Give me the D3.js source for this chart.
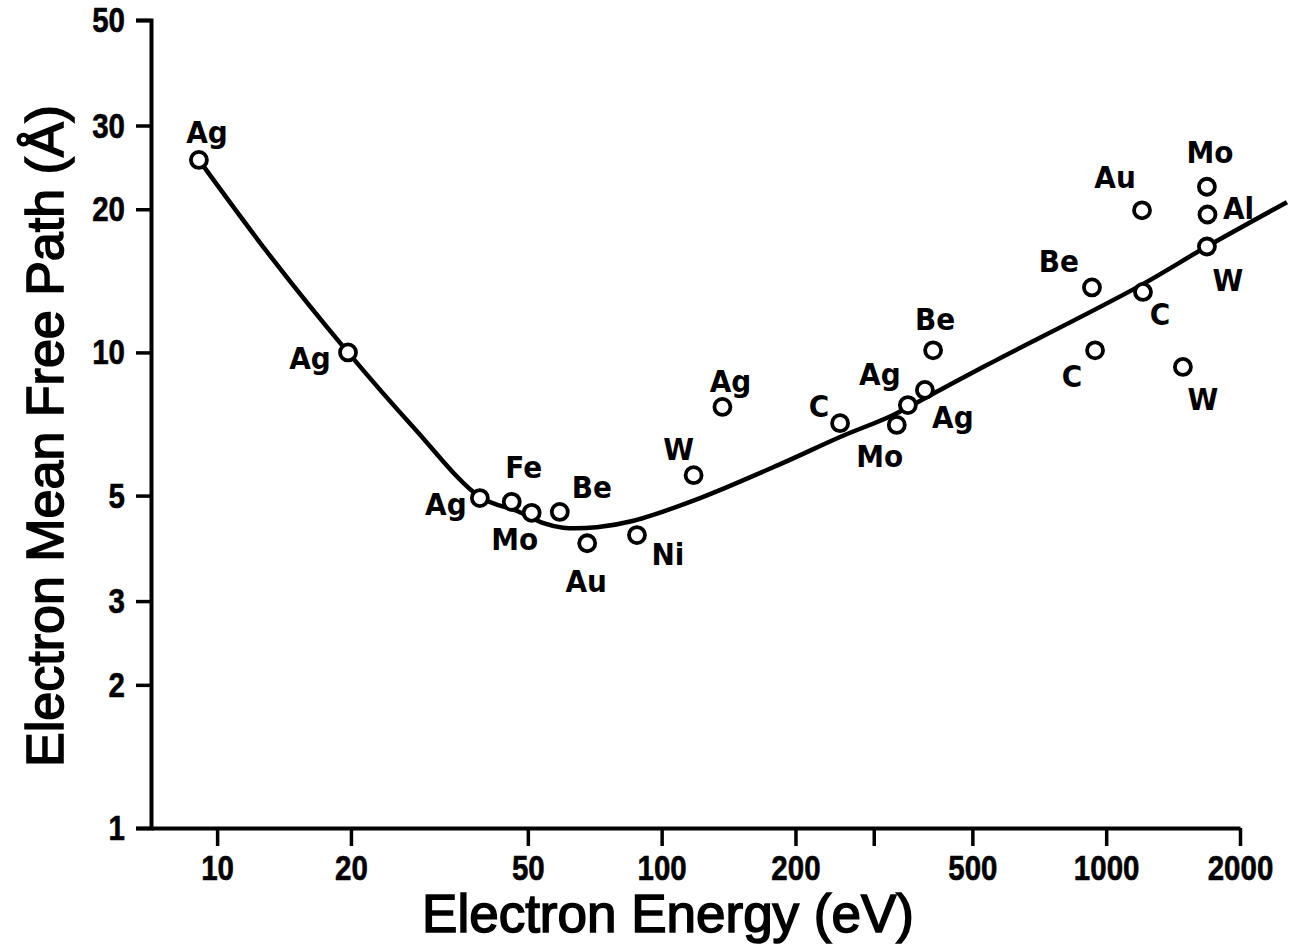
<!DOCTYPE html>
<html>
<head>
<meta charset="utf-8">
<script src="https://cdnjs.cloudflare.com/ajax/libs/d3/7.8.5/d3.min.js"></script>
<style>
  html, body { margin: 0; padding: 0; background: #fff; }
  svg { display: block; }
  .tick text { font-family: "Liberation Sans", Arial, sans-serif; font-weight: bold; }
  .ptlabel { font-family: "DejaVu Sans Condensed", "DejaVu Sans", sans-serif; font-weight: bold; }
  .title { font-family: "Liberation Sans", Arial, sans-serif; }
</style>
</head>
<body>
<div id="chart"></div>
<script>
// measured points (element, energy in eV, mean free path in Angstrom)
var element = ["Ag","Ag","Ag","Fe","Mo","Be","Au","Ni","W","Ag","C","Mo","Ag","Ag","Be","Be","C","C","Au","W","Mo","Al","W"];
var energy  = [9.1, 19.7, 39, 46, 51, 59, 68, 88, 118, 137, 252, 338, 358, 391, 408, 929, 944, 1210, 1204, 1488, 1685, 1690, 1685];
var mfp     = [25.4, 10.0, 4.94, 4.85, 4.6, 4.62, 3.97, 4.13, 5.52, 7.68, 7.1, 7.04, 7.75, 8.34, 10.1, 13.7, 10.1, 13.4, 19.9, 9.32, 22.3, 19.5, 16.7];

// the "universal curve"
var curveEnergy = [9.1, 13.2, 19.7, 27.6, 39, 47.3, 54, 60, 71.5, 86, 122, 187, 252, 331, 423, 539, 1173, 1685, 2550];
var curveMfp    = [25.4, 15.9, 10.0, 6.97, 4.97, 4.64, 4.38, 4.28, 4.29, 4.42, 4.94, 5.85, 6.64, 7.38, 8.34, 9.41, 13.7, 16.7, 20.7];

// tick values
var xTicks = [10, 20, 50, 100, 200, 300, 500, 1000, 2000];
var xTickLabels = ["10", "20", "50", "100", "200", "", "500", "1000", "2000"];
var yTicks = [1, 2, 3, 5, 10, 20, 30, 50];

// label placement next to each circle (px)
var labelDx = [8, -38, -34, 12, -17, 32, -1, 31, -15, 8, -21, -17, -28, 28, 2, -33, -23, 17, -27, 20, 3, 31, 21];
var labelDy = [-17, 17, 17, -24, 37, -14, 49, 30, -15, -15, -6, 42, -20, 38, -20, -15, 37, 33, -22, 43, -24, 5, 45];

var W = 1290, H = 947;
var squeeze = 0.82; // narrow tick digits

var svg = d3.select("#chart")
  .append("svg")
    .attr("width", W)
    .attr("height", H);

svg.append("rect").attr("width", W).attr("height", H).attr("fill", "#fff");

// scales
var x = d3.scaleLog()
  .domain([7.1, 2000])
  .range([151, 1240]);

var y = d3.scaleLog()
  .domain([1, 50])
  .range([828, 20]);

// x axis
var xAxis = svg.append("g")
  .attr("transform", "translate(0,828)")
  .call(d3.axisBottom(x)
    .tickValues(xTicks)
    .tickFormat(function(d, i){ return xTickLabels[i] })
    .tickSize(18)
    .tickSizeOuter(0)
    .tickPadding(8));

// y axis
var yAxis = svg.append("g")
  .attr("transform", "translate(151,0)")
  .call(d3.axisLeft(y)
    .tickValues(yTicks)
    .tickFormat(d3.format("d"))
    .tickSize(15)
    .tickSizeOuter(15)
    .tickPadding(10));

[xAxis, yAxis].forEach(function(a){
  a.select(".domain").attr("stroke", "#000").attr("stroke-width", 4).attr("fill", "none");
  a.selectAll(".tick line").attr("stroke", "#000").attr("stroke-width", 3.5);
  a.selectAll(".tick text").attr("fill", "#000").style("font-size", "36px")
    .attr("stroke", "#000").attr("stroke-width", 0.6)
    .attr("transform", "scale(" + squeeze + ",1)");
});
// keep the right edge of y labels in place after squeezing
yAxis.selectAll(".tick text").attr("x", -26 / squeeze);

// curve
var pts = curveEnergy.map(function(e, i){ return {e: e, l: curveMfp[i]} });
var line = d3.line()
  .x(function(d){ return x(d.e) })
  .y(function(d){ return y(d.l) })
  .curve(d3.curveCatmullRom.alpha(0.5));

svg.append("path")
  .datum(pts)
  .attr("d", line)
  .attr("fill", "none")
  .attr("stroke", "#000")
  .attr("stroke-width", 4.5);

// points
var data = element.map(function(el, i){
  return {el: el, e: energy[i], l: mfp[i], dx: labelDx[i], dy: labelDy[i]};
});

svg.selectAll("circle.pt")
  .data(data)
  .enter()
  .append("circle")
    .attr("class", "pt")
    .attr("cx", function(d){ return x(d.e) })
    .attr("cy", function(d){ return y(d.l) })
    .attr("r", 8)
    .attr("fill", "#fff")
    .attr("stroke", "#000")
    .attr("stroke-width", 3.8);

svg.selectAll("text.ptlabel")
  .data(data)
  .enter()
  .append("text")
    .attr("class", "ptlabel")
    .attr("x", function(d){ return x(d.e) + d.dx })
    .attr("y", function(d){ return y(d.l) + d.dy })
    .attr("text-anchor", "middle")
    .style("font-size", "31px")
    .text(function(d){ return d.el });

// axis titles
svg.append("text")
  .attr("class", "title")
  .attr("x", 668)
  .attr("y", 932)
  .attr("text-anchor", "middle")
  .style("font-size", "53px")
  .attr("stroke", "#000")
  .attr("stroke-width", 1.6)
  .text("Electron Energy (eV)");

svg.append("text")
  .attr("class", "title")
  .attr("transform", "translate(63,436) rotate(-90)")
  .attr("text-anchor", "middle")
  .style("font-size", "52px")
  .attr("stroke", "#000")
  .attr("stroke-width", 1.6)
  .text("Electron Mean Free Path (Å)");
</script>
</body>
</html>
